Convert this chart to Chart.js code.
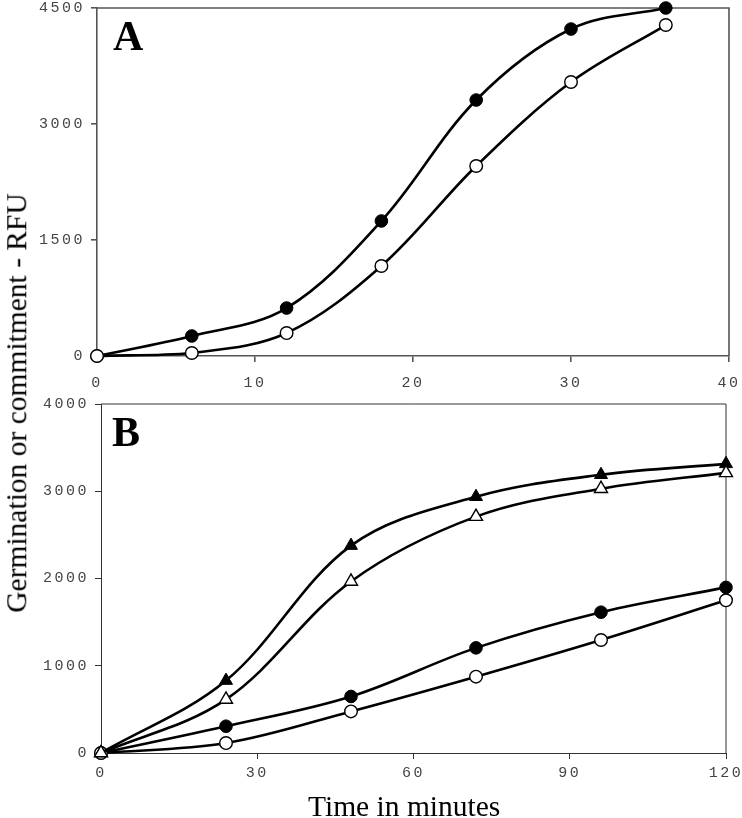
<!DOCTYPE html>
<html>
<head>
<meta charset="utf-8">
<script src="https://cdn.jsdelivr.net/npm/chart.js@4"></script>
<style>
  body { margin:0; background:#fff; }
  #wrap { position:relative; width:742px; height:818px; }
  #cA { position:absolute; left:0; top:0; }
  #cB { position:absolute; left:0; top:390px; }
  .panel { position:absolute; font:bold 42px "Liberation Serif"; line-height:1; color:#000; }
  .ttl { position:absolute; font:29.5px "Liberation Serif"; line-height:1; color:#000; white-space:nowrap; }
</style>
</head>
<body>
<div id="wrap">
  <canvas id="cA" width="742" height="390"></canvas>
  <canvas id="cB" width="742" height="428"></canvas>
  <div class="panel" style="left:113px;top:15px">A</div>
  <div class="panel" style="left:112px;top:411px">B</div>
  <div class="ttl" style="left:308px;top:792px">Time in minutes</div>
  <div class="ttl" id="ytitle" style="left:17px;top:403px;transform:translate(-50%,-50%) rotate(-90deg)">Germination or commitment - RFU</div>
</div>
<script>
// panel A
const timeA = [0, 6, 12, 18, 24, 30, 36];
const filledA = [0, 259, 620, 1746, 3310, 4228, 4500];
const openA = [0, 39, 297, 1164, 2457, 3543, 4280];
// panel B
const timeB = [0, 24, 48, 72, 96, 120];
const filledTriB = [0, 830, 2377, 2937, 3189, 3314];
const openTriB = [0, 614, 1966, 2709, 3029, 3211];
const filledCircB = [0, 307, 648, 1205, 1614, 1898];
const openCircB = [0, 114, 477, 875, 1295, 1750];

const xTicksA = [0, 10, 20, 30, 40];
const yTicksA = [0, 1500, 3000, 4500];
const xTicksB = [0, 30, 60, 90, 120];
const yTicksB = [0, 1000, 2000, 3000, 4000];

Chart.defaults.animation = false;
Chart.defaults.responsive = false;

function pts(xs, ys){ return xs.map((x,i)=>({x:x, y:ys[i]})) }

function series(xs, ys, open, shape){
  return {
    data: pts(xs, ys),
    borderColor: '#000',
    borderWidth: 2.6,
    tension: 0.35,
    clip: false,
    pointStyle: shape,
    pointRadius: shape == 'triangle' ? 7.5 : 6.3,
    pointBackgroundColor: open ? '#fff' : '#000',
    pointBorderColor: '#000',
    pointBorderWidth: open ? 1.4 : 1
  }
}

// monospaced tick labels are spaced out in the original
const spacing = {
  id: 'spacing',
  beforeUpdate(c){ c.ctx.letterSpacing = '2.5px' },
  beforeDraw(c){ c.ctx.letterSpacing = '2.5px' }
}

const frame = {
  id: 'frame',
  beforeDatasetsDraw(c, args, opts){
    const a = c.chartArea, ctx = c.ctx;
    ctx.save();
    ctx.strokeStyle = opts.color;
    ctx.lineWidth = opts.width;
    ctx.beginPath();
    ctx.moveTo(a.left, a.top);
    ctx.lineTo(a.right, a.top);
    ctx.lineTo(a.right, a.bottom);
    ctx.stroke();
    ctx.restore();
  }
}

function noPad(s){ s.paddingLeft = 0; s.paddingRight = 0; s.paddingTop = 0; s.paddingBottom = 0 }

function axes(xMax, xTicks, yMax, yTicks, yW, xH, xPad, col, w){
  const tickFont = {family:'Liberation Mono', size:15};
  return {
    x: {
      type:'linear', min:0, max:xMax,
      afterBuildTicks: s => { s.ticks = xTicks.map(v=>({value:v})) },
      afterFit: s => { s.height = xH; noPad(s) },
      border: {color:col, width:w},
      grid: {drawOnChartArea:false, tickLength:6, color:col, lineWidth:w},
      ticks: {font:tickFont, color:'#444', padding:xPad, maxRotation:0, callback: v => String(v)}
    },
    y: {
      type:'linear', min:0, max:yMax,
      afterBuildTicks: s => { s.ticks = yTicks.map(v=>({value:v})) },
      afterFit: s => { s.width = yW; noPad(s) },
      border: {color:col, width:w},
      grid: {drawOnChartArea:false, tickLength:6, color:col, lineWidth:w},
      ticks: {font:tickFont, color:'#444', padding:6, callback: v => String(v)}
    }
  }
}

new Chart(document.getElementById('cA'), {
  type: 'line',
  data: {
    datasets: [
      series(timeA, openA, true, 'circle'),
      series(timeA, filledA, false, 'circle')
    ]
  },
  options: {
    layout: {padding:{top:8, right:13, left:0, bottom:0}},
    plugins: {legend:{display:false}, tooltip:{enabled:false}, frame:{color:'#555', width:1.6}},
    scales: axes(40, xTicksA, 4500, yTicksA, 97, 34, 12, '#555', 1.6)
  },
  plugins: [spacing, frame]
});

new Chart(document.getElementById('cB'), {
  type: 'line',
  data: {
    datasets: [
      series(timeB, openTriB, true, 'triangle'),
      series(timeB, filledTriB, false, 'triangle'),
      series(timeB, openCircB, true, 'circle'),
      series(timeB, filledCircB, false, 'circle')
    ]
  },
  options: {
    layout: {padding:{top:14, right:16, left:0, bottom:0}},
    plugins: {legend:{display:false}, tooltip:{enabled:false}, frame:{color:'#333', width:1}},
    scales: axes(120, xTicksB, 4000, yTicksB, 101, 65, 5, '#333', 1)
  },
  plugins: [spacing, frame]
});
</script>
</body>
</html>
